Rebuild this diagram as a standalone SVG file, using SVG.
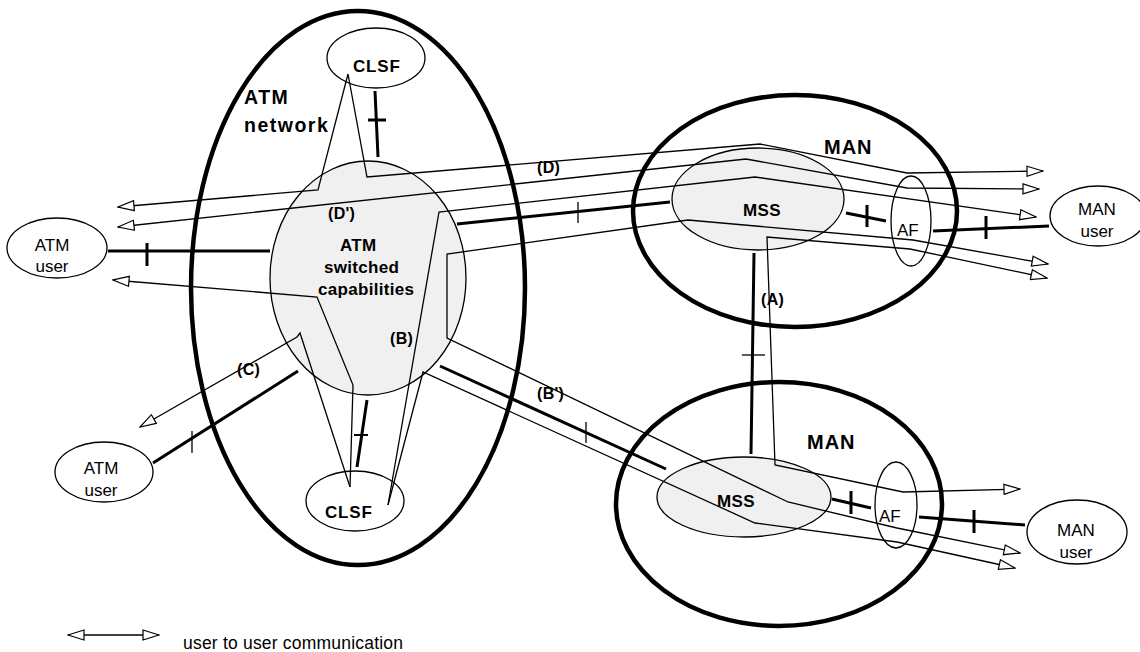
<svg xmlns="http://www.w3.org/2000/svg" width="1140" height="652" viewBox="0 0 1140 652">
<style>
.big{fill:none;stroke:#000;stroke-width:4.5}
.gray{fill:#f0f0f0;stroke:#000;stroke-width:1.3}
.small{fill:none;stroke:#000;stroke-width:1.3}
.thick{fill:none;stroke:#000;stroke-width:3}
.mid{fill:none;stroke:#000;stroke-width:2}
.thin{fill:none;stroke:#000;stroke-width:1.3}
.flow{fill:none;stroke:#000;stroke-width:1.3;stroke-linejoin:miter}
.a2{marker-start:url(#ah);marker-end:url(#ah)}
.as{marker-start:url(#ah)}
.ae{marker-end:url(#ah)}
text{font-family:"Liberation Sans",Arial,sans-serif;fill:#000}
.lbl{font-size:19.5px;font-weight:bold;letter-spacing:1.5px}
.man{font-size:20px;font-weight:bold;letter-spacing:1px}
.nb{font-size:17px;font-weight:bold;letter-spacing:0.8px}
.cap{font-size:17px;font-weight:bold;letter-spacing:0.3px}
.ref{font-size:16px;font-weight:bold;letter-spacing:0.3px}
.usr{font-size:17px}
.leg{font-size:17.5px;letter-spacing:0.2px}
</style>
<defs>
<marker id="ah" viewBox="0 0 18 12" refX="17" refY="6" markerWidth="18" markerHeight="12" markerUnits="userSpaceOnUse" orient="auto-start-reverse">
<path d="M1,1 L17,6 L1,11 Z" fill="#fff" stroke="#000" stroke-width="1.2"/>
</marker>
</defs>

<g id="atm-network">
<ellipse class="big" cx="358" cy="288" rx="167" ry="277"/>
<text class="lbl" x="244" y="104">ATM</text>
<text class="lbl" x="244" y="132">network</text>
</g>
<g id="man-top">
<ellipse class="big" cx="795" cy="211" rx="162" ry="116"/>
<text class="man" x="824" y="154">MAN</text>
</g>
<g id="man-bottom">
<ellipse class="big" cx="779" cy="504" rx="163" ry="122"/>
<text class="man" x="807" y="449">MAN</text>
</g>
<g id="atm-switched">
<ellipse class="gray" cx="368" cy="278" rx="98" ry="117"/>
<text class="cap" x="340" y="251">ATM</text>
<text class="cap" x="324" y="273">switched</text>
<text class="cap" x="318" y="295">capabilities</text>
</g>
<g id="clsf-top">
<ellipse class="small" cx="376" cy="58" rx="49" ry="30"/>
<text class="nb" x="353" y="72">CLSF</text>
</g>
<g id="clsf-bottom">
<ellipse class="small" cx="355" cy="501" rx="49" ry="30"/>
<text class="nb" x="325" y="518">CLSF</text>
</g>
<g id="mss-top">
<ellipse class="gray" cx="758" cy="199" rx="86" ry="51"/>
<text class="nb" x="743" y="216" style="letter-spacing:0.4px">MSS</text>
</g>
<g id="mss-bottom">
<ellipse class="gray" cx="744" cy="497" rx="87" ry="40"/>
<text class="nb" x="717" y="507" style="letter-spacing:0.4px">MSS</text>
</g>
<g id="af-top">
<ellipse class="small" cx="911" cy="221" rx="20" ry="45"/>
<text class="usr" x="897" y="236">AF</text>
</g>
<g id="af-bottom">
<ellipse class="small" cx="896" cy="505" rx="21" ry="43"/>
<text class="usr" x="879" y="522">AF</text>
</g>
<g id="atm-user-left">
<ellipse class="small" cx="57" cy="248" rx="50" ry="30"/>
<text class="usr" x="52" y="251" text-anchor="middle">ATM</text>
<text class="usr" x="52" y="272" text-anchor="middle">user</text>
</g>
<g id="atm-user-bottom">
<ellipse class="small" cx="104" cy="472" rx="49" ry="30"/>
<text class="usr" x="101" y="474" text-anchor="middle">ATM</text>
<text class="usr" x="101" y="496" text-anchor="middle">user</text>
</g>
<g id="man-user-top">
<ellipse class="small" cx="1098" cy="216" rx="48" ry="30"/>
<text class="usr" x="1097" y="215" text-anchor="middle">MAN</text>
<text class="usr" x="1097" y="237" text-anchor="middle">user</text>
</g>
<g id="man-user-bottom">
<ellipse class="small" cx="1077" cy="532" rx="50" ry="32"/>
<text class="usr" x="1076" y="536" text-anchor="middle">MAN</text>
<text class="usr" x="1076" y="558" text-anchor="middle">user</text>
</g>

<g id="connectors">
<line class="thick" x1="375" y1="91" x2="378" y2="157"/>
<line class="thick" x1="368" y1="120" x2="386" y2="120"/>
<line class="thick" x1="108" y1="251" x2="270" y2="251"/>
<line class="thick" x1="147" y1="243" x2="147" y2="266"/>
<line class="thick" x1="153" y1="463" x2="298" y2="371"/>
<line class="thin" x1="192" y1="431" x2="192" y2="453"/>
<line class="thick" x1="367" y1="400" x2="357" y2="467"/>
<line class="mid" x1="354" y1="435" x2="368" y2="435"/>
<line class="thick" x1="457" y1="224" x2="670" y2="202"/>
<line class="thin" x1="578" y1="202" x2="578" y2="223"/>
<line class="thick" x1="846" y1="213" x2="886" y2="221"/>
<line class="thick" x1="867" y1="205" x2="867" y2="227"/>
<line class="thick" x1="933" y1="231" x2="1049" y2="226"/>
<line class="thick" x1="986" y1="216" x2="986" y2="239"/>
<line class="thick" x1="754" y1="253" x2="751" y2="454"/>
<line class="thin" x1="742" y1="355" x2="765" y2="355"/>
<line class="thick" x1="440" y1="366" x2="666" y2="469"/>
<line class="thin" x1="586" y1="422" x2="586" y2="443"/>
<line class="thick" x1="832" y1="499" x2="871" y2="508"/>
<line class="thick" x1="851" y1="491" x2="851" y2="514"/>
<line class="thick" x1="919" y1="517" x2="1025" y2="525"/>
<line class="thick" x1="974" y1="510" x2="974" y2="533"/>
<path class="flow a2" d="M118,207 L318,190 L348,74 L367,177 L760,144 L907,173 L1043,171"/>
<path class="flow a2" d="M118,227 L746,159 L907,188 L1039,189"/>
<path class="flow ae" d="M388,505 L439,212 L755,177 L1036,217"/>
<path class="flow a2" d="M1048,264 L913,240 L688,220 L447,254 L447,338 L788,502 L897,528 L1020,553"/>
<path class="flow a2" d="M1047,278 L910,249 L767,237 L775,465 L903,492 L1020,489"/>
<path class="flow ae" d="M388,505 L423,372 L755,523 L897,542 L1015,568"/>
<path class="flow as" d="M113,280 L317,297 L353,385 L350,487"/>
<path class="flow as" d="M140,427 L297,337 L300,333 L350,487"/>
<line class="flow a2" x1="68" y1="635" x2="159" y2="635"/>
</g>

<g id="labels">
<text class="ref" x="537" y="173">(D)</text>
<text class="ref" x="328" y="219">(D')</text>
<text class="ref" x="761" y="305">(A)</text>
<text class="ref" x="390" y="344">(B)</text>
<text class="ref" x="537" y="399">(B')</text>
<text class="ref" x="237" y="375">(C)</text>
<text class="leg" x="183" y="649">user to user communication</text>
</g>
</svg>
